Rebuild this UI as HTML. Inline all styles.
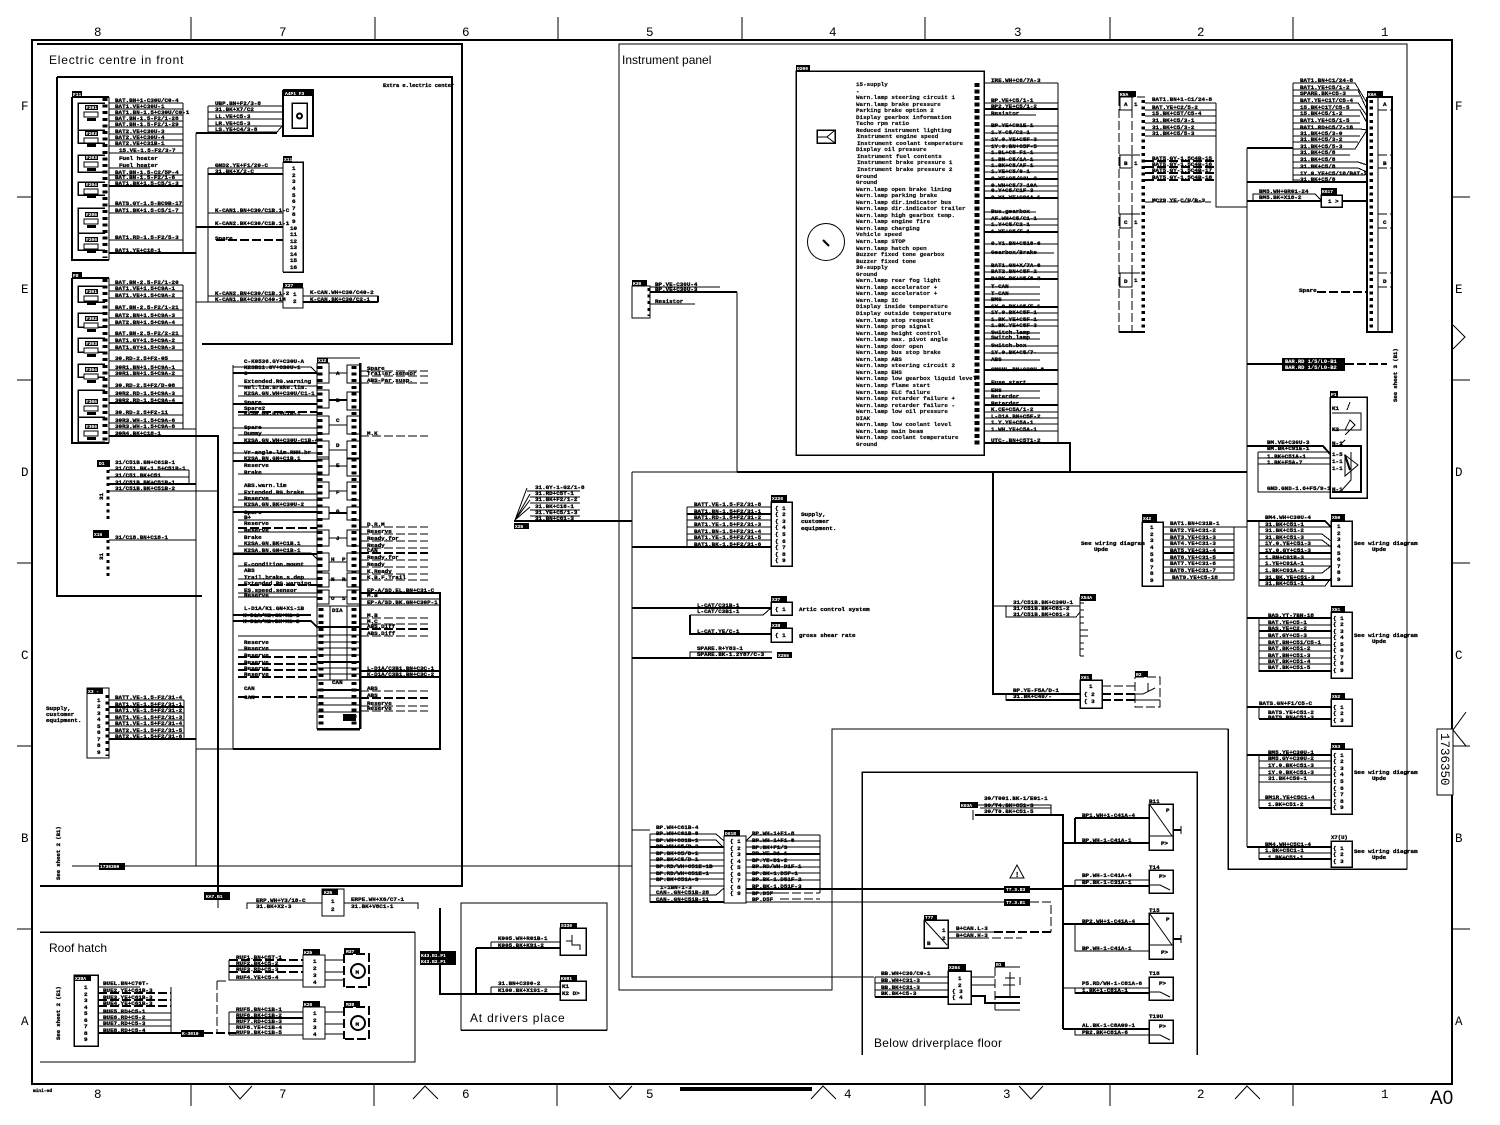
<!DOCTYPE html>
<html><head><meta charset="utf-8"><style>
html,body{margin:0;padding:0;background:#fff}
svg{display:block}
text{font-family:"Liberation Mono",monospace;font-size:5.9px;font-weight:bold;fill:#000;stroke:#000;stroke-width:.32}
.n{stroke-width:.14}
.w{fill:#fff;stroke:#fff;stroke-width:.1;font-size:4.6px}
.s{font-family:"Liberation Mono",monospace;font-size:12.5px;font-weight:normal;stroke-width:0}
.b{font-family:"Liberation Sans",sans-serif;font-size:12px;font-weight:normal;stroke-width:0}
path,rect,circle,line{fill:none;stroke:#000;stroke-width:1}
.k{stroke-width:2}.h{stroke-width:2.5}
.d{stroke-dasharray:9 3}
.dk{stroke-width:2;stroke-dasharray:9 3}
.p{stroke-width:5;stroke-dasharray:3 3.6}
.f{fill:#000;stroke:none}
.q{fill:#fff}
</style></head><body>
<svg width="1500" height="1125" viewBox="0 0 1500 1125" xmlns="http://www.w3.org/2000/svg" shape-rendering="crispEdges">
<rect width="1500" height="1125" style="fill:#fff;stroke:none"/>
<!-- drawing frame -->
<path class="k" d="M32 40H1452V1084H32Z"/>
<path d="M191 17V39M375 17V39M558 17V39M742 17V39M925 17V39M1110 17V39M1293 17V39M191 1085V1106M374 1085V1106M557 1085V1106M1293 1085V1106M1110 1085V1106M925 1085V1106M17 197H32M17 380H32M17 563H32M17 746H32M17 929H32M1452 197H1470M1452 380H1470M1452 563H1470M1452 746H1470M1452 929H1470"/>
<path shape-rendering="auto" d="M229 1086L240 1099L252 1086M413 1099L425 1086L438 1099M609 1086L620 1099L632 1086M811 1099L823 1086L836 1099M1019 1086L1031 1099L1043 1086M1235 1099L1247 1086L1260 1099M1453 325L1465 337L1453 349M1466 712L1453 730L1466 746"/>
<rect class="f" x="680" y="1087" width="132" height="4"/>
<g class="s"><text class="s" x="94" y="36">8</text><text class="s" x="279" y="36">7</text><text class="s" x="462" y="36">6</text><text class="s" x="646" y="36">5</text><text class="s" x="829" y="36">4</text><text class="s" x="1014" y="36">3</text><text class="s" x="1197" y="36">2</text><text class="s" x="1381" y="36">1</text>
<text class="s" x="94" y="1098">8</text><text class="s" x="279" y="1098">7</text><text class="s" x="462" y="1098">6</text><text class="s" x="646" y="1098">5</text><text class="s" x="844" y="1098">4</text><text class="s" x="1003" y="1098">3</text><text class="s" x="1197" y="1098">2</text><text class="s" x="1381" y="1098">1</text>
<text class="s" x="21" y="110">F</text><text class="s" x="21" y="293">E</text><text class="s" x="21" y="476">D</text><text class="s" x="21" y="659">C</text><text class="s" x="21" y="842">B</text><text class="s" x="21" y="1025">A</text>
<text class="s" x="1455" y="110">F</text><text class="s" x="1455" y="293">E</text><text class="s" x="1455" y="476">D</text><text class="s" x="1455" y="659">C</text><text class="s" x="1455" y="842">B</text><text class="s" x="1455" y="1025">A</text></g>
<text class="b" style="font-size:19px" x="1430" y="1104">A0</text>
<text x="33" y="1092" style="font-size:4.5px">mini-ed</text>
<rect class="q" x="1437" y="729" width="16" height="66"/>
<text class="s" transform="translate(1441,733) rotate(90)">1736350</text>

<!-- panels -->
<path class="k" d="M37 44H462V886H40"/>
<path class="k" d="M57 77H452V344H202M57 77V596H202"/>
<text class="b" x="49" y="64" letter-spacing=".8">Electric centre in front</text>
<text x="383" y="87" style="font-size:5.4px">Extra e.lectric center</text>
<path d="M619 990V44H1407V869H1228V729H832V990Z"/>
<path class="k" d="M1228 729V869H1407" style="stroke-width:1.5"/>
<text class="b" x="622" y="64">Instrument panel</text>
<path d="M632 472V977H874"/>
<path class="k" d="M737 472H1247"/>
<path d="M632 472H737"/>
<path class="k" d="M862 1055V772H1197V1055" style="stroke-width:1.5"/>
<text class="b" x="874" y="1047" letter-spacing=".3">Below driverplace floor</text>
<path class="k" style="stroke-width:1.5" d="M40 932H415"/><path d="M415 932V1062H40"/>
<text class="b" x="49" y="952">Roof hatch</text>
<path d="M461 1030V903H607V1030Z"/><path class="k" style="stroke-width:1.5" d="M461 1030H607"/>
<text class="b" x="470" y="1022" letter-spacing=".8">At drivers place</text>

<!-- F11 -->
<path class="k" d="M72 97V260H109M72 97H109"/><path d="M109 97V260"/>
<rect class="f" x="72" y="91" width="10" height="6"/><text class="w" x="73" y="96">F11</text>
<path class="p" d="M105 98V258"/>
<path d="M109 103H183M109 109H183M109 115H183M109 121H183M109 127H183M109 134H183M109 140H183M109 146H183M109 153H183M109 168H150M109 175H183M109 180H183M109 186H183M109 206H183M109 213H183M109 240H183M183 103V253"/>
<path class="k" d="M109 253H196M109 186H183"/>
<path class="k" d="M105 103H78V130H105M105 130H78V143H105M105 155H78V172H105M105 182H78V195H105M105 208H78V233H105M105 233H78V250H105" style="stroke-width:1.5"/>
<g id="fz"><rect class="f" x="85" y="105" width="13" height="5"/><rect class="q" x="84" y="112" width="14" height="5"/><rect class="f" x="87" y="118" width="9" height="3"/></g>
<use href="#fz" y="26"/><use href="#fz" y="50"/><use href="#fz" y="77"/><use href="#fz" y="107"/><use href="#fz" y="132"/>
<text class="w" x="86" y="109">F201</text><text class="w" x="86" y="135">F202</text><text class="w" x="86" y="159">F203</text><text class="w" x="86" y="186">F204</text><text class="w" x="86" y="216">F205</text><text class="w" x="86" y="241">F206</text>
<text x="115" y="102">BAT.BN+1-C30U/C0-4</text><text x="115" y="108">BAT1.VE+C30U-1</text><text x="115" y="114">BAT1.BN-1.5+C30U/C0-1</text><text x="115" y="120">BAT.BN-1.5-F2/1-28</text><text x="115" y="126">BAT.BN-1.5-F2/1-29</text><text x="115" y="133">BAT2.VE+C30U-3</text><text x="115" y="139">BAT2.VE+C30U-4</text><text x="115" y="145">BAT2.VE+C31B-1</text><text x="119" y="152">15.VE-1.5-F2/3-7</text><text x="119" y="160">Fuel heater</text><text x="119" y="167">Fuel heater</text><text x="115" y="174">BAT.BN-1.5-C2/5P-4</text><text x="115" y="179">BAT.BN-1.5-F2/1-6</text><text x="115" y="185">BAT1.BK+1.5-C5/1-3</text><text x="115" y="205">BATS.GY-1.5-BC9B-17</text><text x="115" y="212">BAT1.BK+1.5-C5/1-7</text><text x="115" y="239">BAT1.RD-1.5-F2/5-3</text><text x="115" y="252">BAT1.YE+C18-1</text>
<!-- F12 -->
<path class="k" d="M72 278V443H109M72 278H109"/><path d="M109 278V443"/>
<rect class="f" x="72" y="272" width="10" height="6"/><text class="w" x="73" y="277">F8</text>
<path class="p" d="M105 279V441"/>
<path d="M109 285H183M109 291H183M109 298H183M109 310H183M109 318H183M109 325H183M109 336H183M109 343H183M109 350H183M109 361H183M109 370H183M109 376H183M109 388H183M109 396H183M109 403H183M109 415H183M109 423H183M109 429H196M183 285V429"/>
<path class="k" d="M109 436H218V893M109 403H183"/>
<path class="k" style="stroke-width:1.5" d="M105 286H78V302H105M105 313H78V327H105M105 338H78V352H105M105 364H78V377H105M105 390H78V417H105M105 417H78V442H105"/>
<use href="#fz" y="184"/><use href="#fz" y="211"/><use href="#fz" y="236"/><use href="#fz" y="262"/><use href="#fz" y="294"/><use href="#fz" y="319"/>
<text class="w" x="86" y="293">F301</text><text class="w" x="86" y="320">F302</text><text class="w" x="86" y="345">F303</text><text class="w" x="86" y="371">F304</text><text class="w" x="86" y="403">F305</text><text class="w" x="86" y="428">F306</text>
<text x="115" y="284">BAT.BN-2.5-F2/1-20</text><text x="115" y="290">BAT1.VE+1.5+C9A-1</text><text x="115" y="297">BAT1.VE+1.5+C9A-2</text><text x="115" y="309">BAT.BN-2.5-F2/1-21</text><text x="115" y="317">BAT2.BN+1.5+C9A-3</text><text x="115" y="324">BAT2.BN+1.5+C9A-4</text><text x="115" y="335">BAT.BN-2.5-F2/2-21</text><text x="115" y="342">BAT1.GY+1.5+C9A-2</text><text x="115" y="349">BAT1.GY+1.5+C9A-3</text><text x="115" y="360">30.RD-2.5+F2-05</text><text x="115" y="369">30R1.BN+1.5+C9A-1</text><text x="115" y="375">30R1.BN+1.5+C9A-2</text><text x="115" y="387">30.RD-2.5+F2/D-08</text><text x="115" y="395">30R2.RD-1.5+C9A-3</text><text x="115" y="402">30R2.RD-1.5+C9A-4</text><text x="115" y="414">30.RD-2.5+F2-11</text><text x="115" y="422">30R3.WH-1.5+C9A-6</text><text x="115" y="428">30R3.WH-1.5+C9A-8</text><text x="115" y="435">30R4.BK+C18-1</text>
<!-- bus lines -->
<path d="M196 133V866M72 866H632M218 900V908"/>
<path class="k" d="M196 133H277"/>
<path d="M196 749H440"/>
<rect class="f" x="99" y="863" width="26" height="7"/><text class="w" x="100" y="868">1736350</text>
<text transform="translate(60,880) rotate(-90)" style="font-size:5.6px">See sheet 2 (B1)</text>
<rect class="f" x="204" y="892" width="26" height="8"/><text class="w" x="206" y="898">KA7.B1</text>
<!-- A4 connector -->
<path class="k" d="M283 90H313V136H283V90"/><rect class="f" x="283" y="90" width="30" height="6"/><text class="w" x="285" y="95">A4P1 F3</text>
<rect class="k" style="stroke-width:1.5" x="292" y="103" width="15" height="25"/><circle cx="299.5" cy="116" r="2.5" class="k" shape-rendering="auto"/>
<path d="M208 106H283M208 112H283M208 119H283M208 126H283M208 132H277L283 125M208 106V132"/>
<text x="215" y="105">UBP.BN+F2/3-8</text><text x="215" y="111">31.BK+X7/C2</text><text x="215" y="118">LL.VE+C5-3</text><text x="215" y="125">LR.VE+C5-3</text><text x="215" y="131">LS.YE+C4/3-8</text>
<!-- X11 -->
<path class="k" style="stroke-width:1.5" d="M283 162H303V272H283"/><path d="M283 162V272"/>
<rect class="f" x="283" y="156" width="9" height="6"/><text class="w" x="284" y="161">X11</text>
<g class="n"><text x="292" y="170">1</text><text x="292" y="177">2</text><text x="292" y="183">3</text><text x="292" y="190">4</text><text x="292" y="197">5</text><text x="292" y="203">6</text><text x="292" y="210">7</text><text x="292" y="216">8</text><text x="292" y="223">9</text><text x="290" y="230">10</text><text x="290" y="236">11</text><text x="290" y="243">12</text><text x="290" y="249">13</text><text x="290" y="256">14</text><text x="290" y="262">15</text><text x="290" y="269">16</text></g>
<path d="M208 168H283M208 168V302M208 213H283M283 183V270"/><path class="k" d="M208 174H283M196 227H283"/><path class="dk" d="M216 240H283"/>
<text x="215" y="167">GND2.YE+F1/20-C</text><text x="215" y="173">31.BK+X/2-C</text><text x="215" y="212">K-CAN1.BN+C30/C1B.1-C</text><text x="215" y="225">K-CAN2.BK+C30/C1B.1-1</text><text x="215" y="240">Spare</text>
<!-- X27 -->
<rect x="283" y="288" width="20" height="20"/><rect class="f" x="283" y="283" width="20" height="5"/><text class="w" x="285" y="287">X27</text>
<text x="293" y="296">1</text><text x="293" y="303">2</text>
<path d="M208 296H283M196 302H283M303 296H378V302H303"/>
<path class="k" d="M303 302H378M378 296V302"/>
<text x="215" y="295">K-CAN2.BN+C30/C1B.1-2</text><text x="215" y="301">K-CAN1.BK+C30/C40-1M</text><text x="310" y="294">K-CAN.WH+C30/C40-2</text><text x="310" y="301">K-CAN.BK+C30/C2-1</text>

<!-- X12 central -->
<path d="M233 365V749"/>
<path class="k" d="M360 593H440V749H233" style="stroke-width:2"/>
<path d="M317 363V729"/><path class="h" d="M360 363V729M317 729H360"/><path d="M317 358H360"/>
<rect class="f" x="317" y="358" width="11" height="5"/><text class="w" x="318" y="362">X12</text>
<path d="M317 363H329V383H317M317 390H329V408H317M317 416H329V434H317M317 441H329V459H317M317 457H329V475H317M317 482H329V498H317M317 507H329V519H317M317 530H329V546H317M317 553H329V571H317M317 573H329V587H317M317 590H329V604H317M347 365H360V383H347ZM347 392H360V410H347ZM347 416H360V434H347ZM347 441H360V459H347ZM347 458H360V476H347ZM347 482H360V500H347ZM347 507H360V520H347ZM347 530H360V546H347ZM347 553H360V571H347ZM347 573H360V587H347ZM347 590H360V604H347Z"/>
<path d="M329 373H347M329 400H347M329 425H347M329 450H347M329 466H347M329 491H347M329 513H347M329 538H347M329 562H347M329 580H347M329 597H347"/>
<path class="k" d="M329 400H347M329 513H347"/>
<text x="336" y="375">A</text><text x="336" y="402">B</text><text x="336" y="422">C</text><text x="336" y="447">D</text><text x="336" y="467">E</text><text x="336" y="494">F</text><text x="336" y="513">G</text><text x="336" y="540">J</text><text x="331" y="561">H</text><text x="342" y="561">P</text><text x="331" y="581">N</text><text x="342" y="581">R</text><text x="331" y="600">O</text><text x="342" y="600">S</text><text x="332" y="612">DIA</text><text x="332" y="684" >CAN</text>
<path d="M317 606H360M330 606V680M347 606V680M317 680H360"/>
<path class="p" d="M320 366V604M354 366V604"/>
<path class="p" d="M321 608V678M354 608V678M321 682V725M354 682V725"/>
<path d="M317 635H360M317 642H360M317 648H360M317 655H360M317 662H360M317 668H360M317 674H360M317 690H360M317 698H360M317 705H360M317 712H360"/>
<path class="k" d="M317 627H360M317 662H360M317 690H360"/>
<rect class="f" x="343" y="714" width="13" height="7"/>
<!-- X12 left rows -->
<path d="M233 367H311L317 373M238 386H317M238 396H317M238 461H317M238 415H317M233 428H317M238 435H317M233 453H317M238 461H317M238 474H317M238 494H317M238 500H317M233 507H317M238 520H317M238 532H317M238 546H317M233 553H311L317 559M238 566H317M238 579H317M238 593H317M238 597H317M238 636H317M238 650H317"/>
<path class="k" d="M233 373H317M233 404H317M233 443H317M233 461H317M233 512H317M233 554H317M233 621H311L317 627M233 615H311"/>
<path class="dk" d="M238 412H317M238 528H317M238 585H317M238 657H317M238 664H317M238 670H317M238 677H317M238 697H317"/>
<text x="244" y="363">C-K0536.GY+C30U-A</text><text x="244" y="369">K2SB11.GY+C30U-1</text><text x="244" y="375">C</text><text x="244" y="383">Extended.RG.warning</text><text x="244" y="389">Rel.lim.Brake.lim.</text><text x="244" y="395">K2SA.GN.WH+C30U/C1-1</text><text x="244" y="404">Spare</text><text x="244" y="410">Spare2</text><text x="244" y="415">K2SA.GN.GY+C1B-1</text><text x="244" y="429">Spare</text><text x="244" y="435">Dummy</text><text x="244" y="442">K2SA.GN.WH+C30U-C1B-4</text><text x="244" y="454">Vr-angle.lim.RHH.br</text><text x="244" y="460">K2SA.BN.GN+C1B.1</text><text x="244" y="467">Reserve</text><text x="244" y="474">Brake</text><text x="244" y="487">ABS.warn.lim</text><text x="244" y="494">Extended.RG.brake</text><text x="244" y="500">Reserve</text><text x="244" y="506">K2SA.GN.BK+C30U-2</text><text x="244" y="514">Spare</text><text x="244" y="519">B+</text><text x="244" y="525">Reserve</text><text x="244" y="532">Reserve</text><text x="244" y="539">Brake</text><text x="244" y="545">K2SA.GN.BK+C1B.1</text><text x="244" y="552">K2SA.BN.GN+C1B-1</text><text x="244" y="566">E-condition.mount</text><text x="244" y="572">ABS</text><text x="244" y="579">Trail.brake.s.dep</text><text x="244" y="585">Extended.RG.warning</text><text x="244" y="592">ES.speed.sensor</text><text x="244" y="597">Reserve</text><text x="244" y="610">L-D1A/K1.GN+X1-1B</text><text x="243" y="617">K-D1A/K2.GN+X1-1</text><text x="243" y="623">K-D1A/K2.BK+X1-2</text><text x="244" y="644">Reserve</text><text x="244" y="650">Reserve</text><text x="244" y="657">Reserve</text><text x="244" y="664">Reserve</text><text x="244" y="670">Reserve</text><text x="244" y="676">Reserve</text><text x="244" y="690">CAN</text><text x="244" y="699">CAN</text>
<!-- X12 right rows -->
<path class="d" d="M360 371H428M360 376H428M360 383H428M360 436H428M360 527H428M360 534H428M360 541H428M360 548H428M360 560H428M360 567H428M360 574H428M360 580H428M360 618H428M360 624H428M360 636H428M360 691H428M360 706H428M360 711H428"/>
<path class="dk" d="M360 553H428M360 629H428M360 698H428"/>
<path d="M360 599H440M360 605H440"/><path class="k" d="M360 671H440M360 677H440"/>
<text x="367" y="370">Spare</text><text x="367" y="375">Trailer.sensor</text><text x="367" y="382">ABS-Par.susp.</text><text x="367" y="435">M.K</text><text x="367" y="526">D.R.M</text><text x="367" y="533">Reserve</text><text x="367" y="540">Ready.for</text><text x="367" y="547">Ready</text><text x="367" y="552">CAN</text><text x="367" y="559">Ready.for</text><text x="367" y="566">Ready</text><text x="367" y="573">K.Ready</text><text x="367" y="579">K.B.F.Trail</text><text x="367" y="592">EP-A/SD.EL.BN+C31-C</text><text x="367" y="597">M.B</text><text x="367" y="604">EP-A/SD.BK.GN+C30P-1</text><text x="367" y="617">M.B</text><text x="367" y="623">M.C</text><text x="367" y="628">ABS.Diff</text><text x="367" y="635">ABS.Diff</text><text x="367" y="670">L-D1A/C3B1.BN+C3C-1</text><text x="367" y="676">K-D1A/C3B1.BN+C3C-2</text><text x="367" y="690">ABS</text><text x="367" y="697">ABS</text><text x="367" y="705">Reserve</text><text x="367" y="710">Reserve</text>

<!-- D1 X16 -->
<rect class="f" x="97" y="460" width="13" height="7"/><text class="w" x="99" y="465">D1</text>
<path class="p" style="stroke-width:3" d="M108 470V521M108 540V576"/>
<text transform="translate(103,500) rotate(-90)">31</text><text transform="translate(103,560) rotate(-90)">31</text>
<path d="M109 470H189M109 477H189M109 491H218M189 470V484M109 540H196"/><path class="k" d="M109 484H196"/>
<text x="115" y="464">31/C51B.BN+C61B-1</text><text x="115" y="470">31/C51.BK-1.5+C51B-1</text><text x="115" y="477">31/C51.BK+C51</text><text x="115" y="484">31/C51B.BK+C51B-1</text><text x="115" y="490">31/C51B.BK+C51B-2</text>
<rect class="f" x="93" y="530" width="16" height="8"/><text class="w" x="94" y="536">X16</text>
<text x="115" y="539">31/C18.BN+C18-1</text>
<!-- X3 -->
<path d="M87 688H109V758H87Z"/><rect class="f" x="87" y="688" width="16" height="6"/><text class="w" x="88" y="693">X3 -</text>
<text x="97" y="702">1</text><text x="97" y="708">2</text><text x="97" y="715">3</text><text x="97" y="721">4</text><text x="97" y="728">5</text><text x="97" y="734">6</text><text x="97" y="741">7</text><text x="97" y="747">8</text><text x="97" y="754">9</text>
<path class="p" style="stroke-width:3" d="M107 695V756"/>
<path d="M109 700H184M109 707H184M109 713H184M109 720H184M109 726H184M109 733H184M184 700V740"/><path class="k" d="M109 739H196M109 707H184"/>
<text x="115" y="699">BATT.VE-1.5-F2/31-4</text><text x="115" y="706">BAT1.VE-1.5+F2/31-1</text><text x="115" y="712">BAT1.VE-1.5+F2/31-2</text><text x="115" y="719">BAT1.VE-1.5+F2/31-3</text><text x="115" y="725">BAT1.VE-1.5+F2/31-4</text><text x="115" y="732">BAT2.VE-1.5+F2/31-5</text><text x="115" y="738">BAT2.VE-1.5+F2/31-6</text>
<text x="46" y="710">Supply,</text><text x="46" y="716">customer</text><text x="46" y="722">equipment.</text>

<!-- K25 -->
<path d="M322 889H344V916H322Z"/><rect class="f" x="322" y="889" width="16" height="6"/><text class="w" x="324" y="894">K25</text>
<text x="331" y="903">1</text><text x="331" y="911">2</text>
<path d="M247 909V903H322M344 903H418V909"/>
<text x="256" y="902">ERP.WH+Y3/18-C</text><text x="256" y="908">31.BK+X2-3</text><text x="351" y="901">ERPE.WH+X6/C7-1</text><text x="351" y="908">31.BK+V8C1-1</text>
<!-- Roof hatch -->
<path class="k" d="M74 975H98V1046H74Z" style="stroke-width:1.5"/><rect class="f" x="74" y="975" width="17" height="6"/><text class="w" x="75" y="980">X38A</text>
<text transform="translate(60,1040) rotate(-90)" style="font-size:5.6px">See sheet 2 (E1)</text>
<text x="84" y="989">1</text><text x="84" y="996">2</text><text x="84" y="1002">3</text><text x="84" y="1009">4</text><text x="84" y="1015">5</text><text x="84" y="1022">6</text><text x="84" y="1028">7</text><text x="84" y="1035">8</text><text x="84" y="1041">9</text>
<path d="M98 987H140M98 1013H171M98 1020H171M98 1026H171M171 987V1033"/><path class="dk" d="M98 993H171M98 1000H171M98 1006H171"/><path class="k" d="M98 1033H181"/>
<text x="103" y="985">BUEL.BN+C70T-</text><text x="103" y="992">BUE2.YE+C61B-3</text><text x="103" y="999">BUE3.YE+C61B-3</text><text x="103" y="1005">BUE4.YE+C61B-3</text><text x="103" y="1013">BUE5.RD+C5-1</text><text x="103" y="1019">BUE6.RD+C5-2</text><text x="103" y="1025">BUE7.RD+C5-3</text><text x="103" y="1032">BUE8.RD+C5-4</text>
<rect class="f" x="181" y="1030" width="23" height="7"/><text class="w" x="182" y="1035">K-3010</text>
<path class="dk" d="M204 1033H236"/><path class="d" d="M217 981V1033M217 981H229"/>
<path class="dk" d="M229 960H303M229 972H303"/><path class="k" d="M229 966H303"/><path d="M229 960V980H303M229 1012H303M229 1012V1035M229 1024H303M229 1035H303"/><path class="k" d="M236 1018H303"/>
<text x="236" y="959">RUF1.BN+C5T-1</text><text x="236" y="965">RUF2.BK+C5-2</text><text x="236" y="971">RUF3.RD+C5-3</text><text x="236" y="979">RUF4.YE+C5-4</text><text x="236" y="1011">RUF5.BN+C1B-1</text><text x="236" y="1017">RUF6.BK+C1B-2</text><text x="236" y="1023">RUF7.RD+C1B-3</text><text x="236" y="1029">RUF8.YE+C1B-4</text><text x="236" y="1034">RUF9.BK+C1B-5</text>
<path d="M303 955H325V987H303ZM303 1007H325V1039H303ZM325 960H344M325 972H344M325 980H344M325 1012H344M325 1024H344M325 1034H344"/>
<rect class="f" x="303" y="949" width="17" height="6"/><text class="w" x="304" y="954">K25</text><rect class="f" x="303" y="1001" width="17" height="6"/><text class="w" x="304" y="1006">K26</text>
<text x="313" y="963">1</text><text x="313" y="970">2</text><text x="313" y="977">3</text><text x="313" y="984">4</text><text x="313" y="1015">1</text><text x="313" y="1022">2</text><text x="313" y="1029">3</text><text x="313" y="1036">4</text>
<path class="dk" d="M344 954H369V987H344M344 1007H369V1039H344M344 954V987M344 1007V1039"/>
<rect class="f" x="344" y="948" width="16" height="6"/><text class="w" x="346" y="953">M37</text><rect class="f" x="344" y="1001" width="16" height="6"/><text class="w" x="346" y="1006">M38</text>
<circle class="k q" cx="358" cy="971" r="7" shape-rendering="auto"/><circle class="k q" cx="358" cy="1023" r="7" shape-rendering="auto"/><text x="355.5" y="974">M</text><text x="355.5" y="1026">M</text>
<!-- Drivers place -->
<path d="M440 908V951"/><path class="k" d="M440 908V994H560M476 948V994M476 948H560"/>
<rect class="f" x="420" y="951" width="36" height="14"/><text class="w" x="421" y="957">K43.B1.P1</text><text class="w" x="421" y="963">K43.B2.P1</text>
<path d="M491 942H560M491 942V948M491 987H560M491 987V994"/>
<text x="498" y="940">K005.WH+R01B-1</text><text x="498" y="947">K005.BK+K91-2</text><text x="498" y="985">31.BN+C390-2</text><text x="498" y="992">K100.BK+X191-2</text>
<rect class="k" style="stroke-width:1.5" x="560" y="928" width="26" height="27"/><rect class="f" x="560" y="923" width="17" height="5"/><text class="w" x="561" y="927">S330</text><path d="M572 935V945H580V950M566 941H572"/>
<rect class="k" style="stroke-width:1.5" x="560" y="981" width="26" height="19"/><rect class="f" x="560" y="975" width="17" height="6"/><text class="w" x="561" y="980">K081</text><text x="562" y="988">K1</text><text x="562" y="995">K2 D&gt;</text>

<!-- Center-left label bundle -->
<path shape-rendering="auto" d="M515 520L527 488M515 520L530 494M515 520L530 500M515 520L530 507"/>
<path d="M527 491H580M530 497H580M530 503H580M530 510H580M530 516H580"/><path class="k" d="M514 521H632"/>
<rect class="f" x="514" y="523" width="15" height="6"/><text class="w" x="515" y="528">X25</text>
<text x="535" y="489">31.GY-1-G2/1-8</text><text x="535" y="495">31.RD+C5T-1</text><text x="535" y="501">31.BK+F2/1-2</text><text x="535" y="508">31.BK+C18-1</text><text x="535" y="514">31.YE+C5/1-3</text><text x="535" y="520">31.BN+C61-3</text>
<!-- small instrument connector -->
<rect x="632" y="286" width="18" height="32"/><rect class="f" x="632" y="280" width="15" height="6"/><text class="w" x="633" y="285">K36</text>
<path class="p" style="stroke-width:3" d="M649 288V316"/><path class="k" d="M650 292H737"/><path d="M737 292V472M650 287H720M650 304H695"/>
<text x="655" y="286">BP.VE-C30U-4</text><text x="655" y="291">BP.VE+C30U-3</text><text x="655" y="303">Resistor</text>

<!-- instrument cluster -->
<rect class="k" style="stroke-width:1.5" x="796" y="71" width="188" height="384"/><rect class="f" x="796" y="65" width="14" height="6"/><text class="w" x="797" y="70">D200</text>
<rect class="k" style="stroke-width:1.5" x="817" y="130" width="18" height="13"/><path shape-rendering="auto" d="M818 137H827L835 130M827 137L835 143"/>
<circle class="k" style="stroke-width:1" cx="826" cy="242" r="18.5" shape-rendering="auto"/><path class="k" shape-rendering="auto" d="M823 240L829 246"/>
<g class="n" font-size="5.7"><text class="n" x="856" y="86">15-supply</text><text class="n" x="856" y="93">-</text><text class="n" x="856" y="99">Warn.lamp steering circuit 1</text><text class="n" x="856" y="106">Warn.lamp brake pressure</text><text class="n" x="856" y="112">Parking brake option 2</text><text class="n" x="856" y="119">Display gearbox information</text><text class="n" x="856" y="125">Tacho rpm ratio</text><text class="n" x="856" y="132">Reduced instrument lighting</text><text class="n" x="857" y="138">Instrument engine speed</text><text class="n" x="857" y="145">Instrument coolant temperature</text><text class="n" x="856" y="151">Display oil pressure</text><text class="n" x="857" y="158">Instrument fuel contents</text><text class="n" x="857" y="164">Instrument brake pressure 1</text><text class="n" x="857" y="171">Instrument brake pressure 2</text><text class="n" x="856" y="178">Ground</text><text class="n" x="856" y="184">Ground</text><text class="n" x="856" y="191">Warn.lamp open brake lining</text><text class="n" x="856" y="197">Warn.lamp parking brake</text><text class="n" x="856" y="204">Warn.lamp dir.indicator bus</text><text class="n" x="856" y="210">Warn.lamp dir.indicator trailer</text><text class="n" x="856" y="217">Warn.lamp high gearbox temp.</text><text class="n" x="856" y="223">Warn.lamp engine fire</text><text class="n" x="856" y="230">Warn.lamp charging</text><text class="n" x="856" y="236">Vehicle speed</text><text class="n" x="856" y="243">Warn.lamp STOP</text><text class="n" x="856" y="250">Warn.lamp hatch open</text><text class="n" x="856" y="256">Buzzer fixed tone gearbox</text><text class="n" x="856" y="263">Buzzer fixed tone</text><text class="n" x="856" y="269">30-supply</text><text class="n" x="856" y="276">Ground</text><text class="n" x="856" y="282">Warn.lamp rear fog light</text><text class="n" x="856" y="289">Warn.lamp accelerator +</text><text class="n" x="856" y="295">Warn.lamp accelerator +</text><text class="n" x="856" y="302">Warn.lamp IC</text><text class="n" x="856" y="308">Display inside temperature</text><text class="n" x="856" y="315">Display outside temperature</text><text class="n" x="856" y="322">Warn.lamp stop request</text><text class="n" x="856" y="328">Warn.lamp prop signal</text><text class="n" x="856" y="335">Warn.lamp height control</text><text class="n" x="856" y="341">Warn.lamp max. pivot angle</text><text class="n" x="856" y="348">Warn.lamp door open</text><text class="n" x="856" y="354">Warn.lamp bus stop brake</text><text class="n" x="856" y="361">Warn.lamp ABS</text><text class="n" x="856" y="367">Warn.lamp steering circuit 2</text><text class="n" x="856" y="374">Warn.lamp EHS</text><text class="n" x="856" y="380">Warn.lamp low gearbox liquid level</text><text class="n" x="856" y="387">Warn.lamp flame start</text><text class="n" x="856" y="394">Warn.lamp ELC failure</text><text class="n" x="856" y="400">Warn.lamp retarder failure +</text><text class="n" x="856" y="407">Warn.lamp retarder failure -</text><text class="n" x="856" y="413">Warn.lamp low oil pressure</text><text class="n" x="856" y="420">DIAK</text><text class="n" x="856" y="426">Warn.lamp low coolant level</text><text class="n" x="856" y="433">Warn.lamp main beam</text><text class="n" x="856" y="439">Warn.lamp coolant temperature</text><text class="n" x="856" y="446">Ground</text></g>
<path class="p" style="stroke-width:5;stroke-dasharray:4 2.5" d="M977 83V446"/>
<path d="M1058 83V443M984 83H1058M984 103H1058M984 115H1036M984 126H1058M984 133H1058M984 140H1058M984 146H1058M984 153H1058M984 160H1058M984 166H1058M984 172H1058M984 179H1058M984 186H1058M984 191H1058M984 198H1058M984 212H1036M984 219H1058M984 225H1058M984 232H1058M984 244H1058M984 253H1054M984 266H1058M984 272H1058M984 279H1058M984 287H1040M984 294H1040M984 300H1040M984 307H1058M984 313H1058M984 320H1058M984 326H1058M984 333H1040M984 339H1040M984 346H1058M984 353H1058M984 360H1040M984 391H1040M984 398H1040M984 405H1040M984 412H1058M984 418H1058M984 424H1058M984 431H1058"/>
<path class="k" d="M984 109H1058M984 179H1058M984 198H1058M984 232H1058M984 279H1058M984 307H1058M984 370H1058M984 384H1058M984 405H1058M984 443H1070V472"/>
<g><text x="991" y="82">IRE.WH+C6/7A-3</text><text x="991" y="102">BP.VE+C5/1-1</text><text x="991" y="108">BP2.YE+C5/1-2</text><text x="991" y="115">Resistor</text><text x="991" y="127">BP.YE+C91E-1</text><text x="991" y="134">1.Y-C5/C2-1</text><text x="991" y="141">1Y.0.YE+C5F-3</text><text x="991" y="148">1Y.0.BN+C5F-5</text><text x="991" y="154">1.BL+C5-F1-1</text><text x="991" y="161">1.BN-C5/1A-1</text><text x="991" y="167">1.BK+C5/AF-1</text><text x="991" y="173">1.YE+C5/0-1</text><text x="991" y="180">0.YE+C5/C3L-2</text><text x="991" y="187">0.WH+C5/7-10A</text><text x="991" y="192">0.Y+C5/C1F-3</text><text x="991" y="199">0.Y1.YE+C91A-1</text><text x="991" y="213">Bus.gearbox</text><text x="991" y="220">AF.WH+C5/C1-1</text><text x="991" y="226">1.Y+C5/C2-1</text><text x="991" y="233">1.YE+C5/F-1</text><text x="991" y="245">0.Y1.BN+C518-6</text><text x="991" y="254">Gearbox/Brake</text><text x="991" y="267">BAT1.GN+X/7A-6</text><text x="991" y="273">BAT2.BN+C5F-2</text><text x="991" y="280">B+BK.BK+C5/8-2</text><text x="991" y="288">T-CAN</text><text x="991" y="295">T-CAN</text><text x="991" y="301">BMS</text><text x="991" y="308">1Y.0.BK+C5/F-1</text><text x="991" y="314">1Y.0.BK+C5F-1</text><text x="991" y="321">1.BK.YE+C5F-1</text><text x="991" y="327">1.BK.YE+C5F-3</text><text x="991" y="334">Switch.lamp</text><text x="991" y="339">Switch.lamp</text><text x="991" y="347">Switch.box</text><text x="991" y="354">1Y.0.BK+C5/7-</text><text x="991" y="361">ABS</text><text x="991" y="371">GMSHL.BN+C30U-8</text><text x="991" y="384">Fuse.start</text><text x="991" y="392">EHS</text><text x="991" y="398">Retarder</text><text x="991" y="405">Retarder</text><text x="991" y="411">K.CE+C5A/1-2</text><text x="991" y="418">L-D1A.BN+C5F-2</text><text x="991" y="424">1.Y.YE+C5A-1</text><text x="991" y="431">1.WH.YE+C5A-1</text><text x="991" y="442">UTC-.BN+C5T1-2</text></g>

<!-- X90 + left -->
<rect class="k" style="stroke-width:1.5" x="771" y="502" width="21" height="64"/><rect class="f" x="771" y="495" width="16" height="7"/><text class="w" x="772" y="500">X226</text>
<g><text x="775" y="510">{ 1</text><text x="775" y="516">{ 2</text><text x="775" y="523">{ 3</text><text x="775" y="529">{ 4</text><text x="775" y="536">{ 5</text><text x="775" y="543">{ 6</text><text x="775" y="549">{ 7</text><text x="775" y="556">{ 8</text><text x="775" y="562">{ 9</text></g>
<path d="M687 507V547M687 507H771M687 520H771M687 527H771M687 534H771M687 540H771"/><path class="k" d="M687 514H771M632 547H771"/>
<g><text x="694" y="506">BATT.VE-1.5-F2/31-8</text><text x="694" y="513">BAT1.BN-1.5+F2/31-1</text><text x="694" y="519">BAT1.RD-1.5+F2/31-2</text><text x="694" y="526">BAT1.YE-1.5+F2/31-3</text><text x="694" y="533">BAT1.BN-1.5+F2/31-4</text><text x="694" y="539">BAT1.YE-1.5+F2/31-5</text><text x="694" y="546">BAT1.BK-1.5+F2/31-6</text></g>
<text x="801" y="516">Supply,</text><text x="801" y="523">customer</text><text x="801" y="530">equipment.</text>
<!-- X37 -->
<rect class="k" style="stroke-width:1.5" x="771" y="602" width="21" height="13"/><rect class="f" x="771" y="596" width="16" height="6"/><text class="w" x="772" y="601">X37</text>
<rect class="k" style="stroke-width:1.5" x="771" y="628" width="21" height="14"/><rect class="f" x="771" y="622" width="16" height="6"/><text class="w" x="772" y="627">X38</text>
<text x="775" y="611">{ 1</text><text x="775" y="637">{ 1</text>
<path class="k" d="M632 608H771M690 615V634H771"/><path d="M690 615H763L771 608"/>
<text x="697" y="607">L-CAT/C31B-1</text><text x="697" y="613">L-CAT/C3B1-1</text><text x="697" y="633">L-CAT.YE/C-1</text>
<text x="799" y="611">Artic control system</text><text x="799" y="637">gross shear rate</text>
<path class="k" d="M632 658H772"/><path d="M690 658V652H772"/>
<text x="697" y="650">SPARE.R+Y83-1</text><text x="697" y="656">SPARE.BK-1.2Y87/C-3</text>
<rect class="f" x="777" y="652" width="15" height="6"/><text class="w" x="778" y="657">X255</text>
<!-- mid-right X61 -->
<path class="k" d="M993 472V694H1080"/><path d="M993 606H1080M1006 606V617H1076L1080 612M1080 597V656M1006 694V700H1080"/><path class="k" d="M1080 700H1006"/>
<rect class="f" x="1080" y="594" width="16" height="7"/><text class="w" x="1081" y="599">X54A</text>
<path d="M1080 603H1084M1080 610H1084M1080 617H1084M1080 623H1084M1080 630H1088M1080 636H1088M1080 643H1084M1080 649H1084M1080 656H1084"/>
<text x="1013" y="604">31/C51B.BK+C30U-1</text><text x="1013" y="610">31/C51B.BK+C61-2</text><text x="1013" y="616">31/C51B.BK+C61-3</text>
<text x="1013" y="692">BP.YE-F5A/D-1</text><text x="1013" y="698">31.BK+C49/-</text>
<rect class="k" style="stroke-width:1.5" x="1080" y="680" width="22" height="28"/><rect class="f" x="1080" y="674" width="12" height="6"/><text class="w" x="1081" y="679">X61</text>
<text x="1089" y="688">1</text><text x="1084" y="696">{ 2</text><text x="1084" y="703">{ 3</text>
<path class="d" d="M1102 686H1135"/><path class="dk" d="M1102 694H1135M1102 700H1135"/>
<path class="d" d="M1135 677H1160V707H1135V677"/><rect class="f" x="1135" y="671" width="13" height="6"/><text class="w" x="1136" y="676">R2</text>
<path shape-rendering="auto" d="M1135 694H1143L1155 688M1148 683V692M1135 700H1160"/>
<!-- X42 mid -->
<rect class="k" style="stroke-width:1.5" x="1142" y="522" width="21" height="64"/><rect class="f" x="1142" y="514" width="15" height="8"/><text class="w" x="1143" y="520">X42</text>
<text x="1150" y="529">1</text><text x="1150" y="536">2</text><text x="1150" y="542">3</text><text x="1150" y="549">4</text><text x="1150" y="556">5</text><text x="1150" y="562">6</text><text x="1150" y="569">7</text><text x="1150" y="575">8</text><text x="1150" y="582">9</text>
<path d="M1163 527H1247M1163 534H1234M1163 540H1234M1163 547H1234M1163 560H1234M1163 567H1234M1163 573H1234M1163 580H1234M1234 527V580"/><path class="k" d="M1163 553H1234"/>
<g><text x="1170" y="525">BAT1.BN+C31B-1</text><text x="1170" y="532">BAT2.YE+C31-2</text><text x="1170" y="539">BAT3.YE+C31-3</text><text x="1170" y="545">BAT4.YE+C31-3</text><text x="1170" y="552">BAT5.YE+C31-4</text><text x="1170" y="559">BAT6.YE+C31-5</text><text x="1170" y="565">BAT7.YE+C31-6</text><text x="1170" y="572">BAT8.YE+C31-7</text><text x="1172" y="579">BAT9.YE+C5-18</text></g>
<text x="1081" y="545">See wiring diagram</text><text x="1094" y="551">Upde</text>

<!-- Right main vertical + connectors -->
<path d="M1247 148V847"/>
<!-- Left connector F-E -->
<path class="d" d="M1119 97V332H1145M1119 91V97H1145M1132 97V332"/>
<path class="k" d="M1119 332H1145"/><rect class="f" x="1119" y="91" width="17" height="6"/><text class="w" x="1120" y="96">K5A</text>
<path class="p" style="stroke-width:3.5" d="M1143 100V332"/>
<path class="d" d="M1119 110H1132M1119 155H1145M1119 168H1132M1119 214H1145M1119 228H1132M1119 273H1145M1119 287H1132"/>
<rect class="k" style="stroke-width:1" x="1120" y="97" width="12" height="13"/><rect x="1120" y="155" width="12" height="13"/><rect x="1120" y="214" width="12" height="14"/><rect x="1120" y="273" width="12" height="14"/>
<text x="1124" y="106">A</text><text x="1124" y="165">B</text><text x="1124" y="224">C</text><text x="1124" y="283">D</text>
<g class="n"><text x="1134" y="106">1</text><text x="1134" y="165">1</text><text x="1134" y="224">1</text><text x="1134" y="282">1</text></g>
<path d="M1145 103H1216M1145 110H1216M1145 116H1216M1145 123H1216M1145 130H1216M1145 136H1216M1216 103V207H1247"/>
<path class="dk" d="M1145 161H1216M1145 167H1216M1145 173H1216M1145 180H1216"/><path class="d" d="M1145 202H1211"/>
<g><text x="1152" y="101">BAT1.BN+1-C1/24-8</text><text x="1152" y="109">BAT.YE+C2/5-2</text><text x="1152" y="115">15.BK+C5T/C5-4</text><text x="1152" y="122">31.BK+C5/3-1</text><text x="1152" y="129">31.BK+C5/3-2</text><text x="1152" y="135">31.BK+C5/5-3</text><text x="1152" y="160">BAT5.GY-1.5C4B-15</text><text x="1152" y="166">BAT5.GY-1.5C4B-16</text><text x="1152" y="172">BAT5.GY-1.5C4B-17</text><text x="1152" y="179">BAT5.GY-1.5C4B-18</text><text x="1152" y="202">MC29.YE-C/H/B-3</text></g>
<!-- right connector F-E -->
<path class="k" d="M1367 97H1392V332H1367V97"/><path d="M1378 97V332"/><rect class="f" x="1367" y="91" width="16" height="6"/><text class="w" x="1368" y="96">K6A</text>
<path class="p" style="stroke-width:3.5" d="M1371 100V332"/>
<path class="d" d="M1378 110H1392M1378 155H1392M1378 168H1392M1378 214H1392M1378 228H1392M1378 273H1392M1378 287H1392"/>
<text x="1383" y="106">A</text><text x="1383" y="165">B</text><text x="1383" y="224">C</text><text x="1383" y="283">D</text>
<path class="k" d="M1247 148H1293M1247 182H1367M1247 201H1321M1342 201H1367"/>
<path d="M1293 83V182M1293 83H1355L1367 103M1293 90H1358L1367 110M1293 96H1360M1293 103H1358L1367 116M1293 110H1360L1367 123M1293 116H1360M1293 123H1360M1293 129H1360L1367 130M1293 136H1360M1293 142H1358M1293 149H1355L1367 130M1293 155H1350M1293 162H1358L1367 165M1293 168H1358L1367 172M1293 175H1365M1293 180H1300"/>
<g><text x="1300" y="82">BAT1.BN+C1/24-8</text><text x="1300" y="89">BAT1.YE+C5/1-2</text><text x="1300" y="95">SPARE.BK+C5-3</text><text x="1300" y="102">BAT.YE+C1T/C5-4</text><text x="1300" y="109">15.BK+C1T/C5-5</text><text x="1300" y="115">15.BK+C5/1-2</text><text x="1300" y="122">BAT1.YE+C5/1-5</text><text x="1300" y="129">BAT1.RD+C5/7-18</text><text x="1300" y="135">31.BK+C5/3-0</text><text x="1300" y="141">31.BK+C5/3-2</text><text x="1300" y="148">31.BK+C5/5-3</text><text x="1300" y="154">31.BK+C5/8</text><text x="1300" y="161">31.BK+C5/8</text><text x="1300" y="168">31.BK+C5/8</text><text x="1300" y="175">1Y.0.YE+C5/18/BAT-2</text><text x="1300" y="181">31.BK+C5/8</text></g>
<rect class="k" style="stroke-width:1.5" x="1321" y="195" width="21" height="12"/><rect class="f" x="1321" y="188" width="16" height="7"/><text class="w" x="1322" y="193">K617</text><text x="1328" y="203">1 &gt;</text>
<path d="M1253 201V194H1315L1321 200"/>
<text x="1259" y="193">BM5.WH+GR01-24</text><text x="1259" y="199">BM5.BK+X18-2</text>
<text x="1299" y="292">Spare</text><path class="dk" d="M1317 292H1367"/>
<path class="k" d="M1247 364H1282"/><rect class="f" x="1282" y="358" width="63" height="13"/><text class="w" x="1285" y="363" style="font-size:5.4px">BAR.RD 1/5/L0-B1</text><text class="w" x="1285" y="369" style="font-size:5.4px">BAR.RD 1/5/L0-B2</text><path class="dk" d="M1345 364H1387"/>
<text transform="translate(1397,402) rotate(-90)" style="font-size:5.6px">See sheet 3 (B1)</text>
<!-- sensor block -->
<path class="k" style="stroke-width:1.5" d="M1330 397H1367V498H1330V397"/><rect class="f" x="1330" y="391" width="8" height="6"/><text class="w" x="1331" y="396">P1</text>
<path d="M1332 413H1361V430H1345M1332 430H1345L1350 420L1355 425L1345 435M1347 410L1350 402M1345 440L1340 445"/>
<path class="k" d="M1332 446H1361V492H1332M1247 446H1323L1330 454"/>
<path d="M1258 452H1330M1258 452V492H1330M1258 458H1330M1258 464H1330"/><path shape-rendering="auto" d="M1345 455L1358 465L1345 476ZM1351 452V480L1342 490"/>
<path class="k" shape-rendering="auto" d="M1345 455L1350 470"/>
<text x="1267" y="444">BM.VE+C30U-3</text><text x="1267" y="450">BM.BK+C91E-1</text><text x="1267" y="458">1.BK+C51A-1</text><text x="1267" y="464">1.BK+F5A-7</text><text x="1267" y="490">GND.GND-1.6+F5/9-1</text>
<text x="1332" y="410">K1</text><text x="1332" y="431">K2</text><text x="1332" y="445">N-1</text><text x="1332" y="456">1-5</text><text x="1332" y="463">1-1</text><text x="1332" y="470">1-1</text><text x="1332" y="491">N-1</text>
<!-- X50..X54 -->
<g id="cons">
<rect class="k" style="stroke-width:1.5" x="1331" y="521" width="21" height="65"/><rect class="f" x="1331" y="514" width="14" height="7"/><text class="w" x="1332" y="519">X50</text>
<rect class="k" style="stroke-width:1.5" x="1331" y="612" width="21" height="66"/><rect class="f" x="1331" y="606" width="14" height="6"/><text class="w" x="1332" y="611">X51</text>
<rect class="k" style="stroke-width:1.5" x="1331" y="699" width="21" height="27"/><rect class="f" x="1331" y="693" width="14" height="6"/><text class="w" x="1332" y="698">X52</text>
<rect class="k" style="stroke-width:1.5" x="1331" y="749" width="21" height="65"/><rect class="f" x="1331" y="743" width="14" height="6"/><text class="w" x="1332" y="748">X53</text>
<rect class="k" style="stroke-width:1.5" x="1331" y="841" width="21" height="26"/><text x="1331" y="839" style="font-size:5.6px">X7(U)</text>
</g>
<g><text x="1337" y="528">1</text><text x="1337" y="535">2</text><text x="1337" y="541">3</text><text x="1337" y="548">4</text><text x="1337" y="555">5</text><text x="1337" y="561">6</text><text x="1337" y="568">7</text><text x="1337" y="574">8</text><text x="1337" y="581">9</text>
<text x="1333" y="620">{ 1</text><text x="1333" y="626">{ 2</text><text x="1333" y="633">{ 3</text><text x="1333" y="639">{ 4</text><text x="1333" y="646">{ 5</text><text x="1333" y="652">{ 6</text><text x="1333" y="659">{ 7</text><text x="1333" y="665">{ 8</text><text x="1333" y="672">{ 9</text>
<text x="1333" y="709">{ 1</text><text x="1333" y="715">{ 2</text><text x="1333" y="722">{ 3</text>
<text x="1333" y="757">{ 1</text><text x="1333" y="763">{ 2</text><text x="1333" y="770">{ 3</text><text x="1333" y="776">{ 4</text><text x="1333" y="783">{ 5</text><text x="1333" y="790">{ 6</text><text x="1333" y="796">{ 7</text><text x="1333" y="803">{ 8</text><text x="1333" y="809">{ 9</text>
<text x="1333" y="850">{ 1</text><text x="1333" y="856">{ 2</text><text x="1333" y="863">{ 3</text></g>
<path class="k" d="M1247 521H1325L1331 527M1247 618H1331M1247 707H1331M1247 755H1331M1247 847H1331"/>
<path d="M1259 521V586H1325L1331 578M1259 527H1331M1259 534H1322L1331 541M1259 540H1322L1331 547M1259 546H1331M1259 559H1331M1259 566H1331M1259 573H1322L1331 566"/>
<path class="k" d="M1259 553H1331M1259 580H1331"/>
<path d="M1259 618V672M1259 625H1331M1259 631H1331M1259 638H1331M1259 645H1331M1259 651H1331M1259 658H1331M1259 664H1331"/><path class="k" d="M1259 671H1331M1259 631H1331"/>
<path d="M1259 707V719"/><path class="k" d="M1259 719H1331"/>
<path d="M1259 755V808M1259 761H1331M1259 768H1331M1259 775H1331M1259 782H1331M1259 800H1331"/><path class="k" d="M1259 808H1331"/>
<path d="M1259 847V859H1331M1259 853H1331"/><path class="k" d="M1259 859H1331"/>
<text x="1265" y="519">BM4.WH+C30U-4</text><text x="1265" y="526">31.BK+C51-1</text><text x="1265" y="532">31.BK+C51-2</text><text x="1265" y="539">31.BK+C51-3</text><text x="1265" y="545">1Y.0.YE+C51-3</text><text x="1265" y="552">1Y.0.GY+C51-3</text><text x="1265" y="559">1.BN+C91B-3</text><text x="1265" y="565">1.YE+C91A-1</text><text x="1265" y="572">1.BK+C91A-2</text><text x="1265" y="579">31.BK.YE+C51-3</text><text x="1265" y="585">31.BK+C51-1</text>
<text x="1268" y="617">BAS.YT-7BN-18</text><text x="1268" y="624">BAT.YE+C5-1</text><text x="1268" y="630">BAS.YE+C2-2</text><text x="1268" y="637">BAT.GY+C5-3</text><text x="1268" y="644">BAT.BN+C51/C5-1</text><text x="1268" y="650">BAT.BK+C51-2</text><text x="1268" y="657">BAT.BN+C51-3</text><text x="1268" y="663">BAT.BK+C51-4</text><text x="1268" y="669">BAT.BK+C51-5</text>
<text x="1259" y="705">BATS.GN+F1/C5-C</text><text x="1268" y="714">BATS.YE+C51-2</text><text x="1268" y="719">BATS.BN+C51-3</text>
<text x="1268" y="754">BM5.YE+C30U-1</text><text x="1268" y="760">BM5.GY+C30U-2</text><text x="1268" y="767">1Y.0.BK+C51-3</text><text x="1268" y="774">1Y.0.BK+C51-3</text><text x="1268" y="780">31.BK+C50-1</text><text x="1265" y="799">BM1R.YE+C5C1-4</text><text x="1268" y="806">1.BK+C51-2</text>
<text x="1265" y="846">BM4.WH+C5C1-4</text><text x="1265" y="852">1.BK+C5C1-1</text><text x="1268" y="859">1.BK+C51-1</text>
<text x="1354" y="545">See wiring diagram</text><text x="1372" y="551">Upde</text>
<text x="1354" y="637">See wiring diagram</text><text x="1372" y="643">Upde</text>
<text x="1354" y="774">See wiring diagram</text><text x="1372" y="780">Upde</text>
<text x="1354" y="853">See wiring diagram</text><text x="1372" y="859">Upde</text>

<!-- Bottom center connector K-b -->
<path d="M632 830H650M650 834V902H724"/>
<rect class="k" style="stroke-width:1" x="724" y="836" width="22" height="67"/><rect class="f" x="724" y="830" width="16" height="6"/><text class="w" x="725" y="835">D61B</text>
<g><text x="730" y="843">{ 1</text><text x="730" y="850">{ 2</text><text x="730" y="856">{ 3</text><text x="730" y="863">{ 4</text><text x="730" y="869">{ 5</text><text x="730" y="876">{ 6</text><text x="730" y="882">{ 7</text><text x="730" y="889">{ 8</text><text x="730" y="895">{ 9</text></g>
<path d="M650 834H716L724 841M650 840H716L724 848M650 847H724M650 853H724M650 860H724M650 866H724M650 873H724M650 879H724M650 886H724M650 895H716L724 888"/><path class="k" d="M650 902H724M650 847H724"/>
<path d="M746 841L752 835H820M746 841H820M746 847H820M746 854H820M746 860H820M746 867H820M746 873H820M746 880H820M820 835V893M746 893H780"/><path class="k" d="M746 854H820M746 889H1063"/><path class="d" d="M780 893H820M780 899H820"/><path d="M746 902H1004"/>
<g><text x="656" y="829">BP.WH+C61B-4</text><text x="656" y="835">BP.WH+C61B-8</text><text x="656" y="842">BP.WH+C61B-1</text><text x="656" y="848">BP.WH+C5/D-3</text><text x="656" y="855">BP.BK+C5/D-1</text><text x="656" y="861">BP.BK+C5/D-1</text><text x="656" y="868">BP.RD/WH+C51E-1B</text><text x="656" y="875">BP.RD/WH+C51E-1</text><text x="656" y="881">BP.BK+C51A-3</text><text x="660" y="889">1-1BN-1-3</text><text x="656" y="894">CAN-.GN+C51B-28</text><text x="656" y="901">CAN-.GN+C51B-11</text></g>
<g><text x="752" y="835">BP.WH-1+F1-8</text><text x="752" y="842">BP.WH-1+F1-8</text><text x="752" y="849">BP.BK+F1/3</text><text x="752" y="855">BP.YE-D1-1</text><text x="752" y="862">BP.YE-D1-2</text><text x="752" y="868">BP.RD/WH-D1F-1</text><text x="752" y="875">BP.BK-1.D5F-1</text><text x="752" y="881">BP.BK-1.D51F-2</text><text x="752" y="888">BP.BK-1.D51F-3</text><text x="752" y="895">BP.D5F</text><text x="752" y="901">BP.D5F</text></g>
<path class="k" shape-rendering="auto" d="M1017 865L1010 878H1024Z" style="stroke-width:1"/><text x="1015" y="877" style="font-size:7px">!</text>
<rect class="f" x="1004" y="886" width="26" height="7"/><text class="w" x="1006" y="891">T7.3.B3</text>
<rect class="f" x="1004" y="899" width="26" height="7"/><text class="w" x="1006" y="904">T7.3.B1</text>
<path class="d" d="M1030 902H1051V932"/><path class="dk" d="M994 932H1051"/><path class="d" d="M980 938H1022"/>
<rect class="k" style="stroke-width:1.5" x="924" y="920" width="24" height="28"/><rect class="f" x="924" y="915" width="13" height="5"/><text class="w" x="925" y="919">T77</text><path shape-rendering="auto" d="M925 921L947 945"/><text x="927" y="945">B</text><text x="942" y="932">1</text><text x="942" y="940">2</text>
<path d="M948 932H994M948 938H980"/>
<text x="956" y="930">B+CAN.L-3</text><text x="956" y="937">B+CAN.H-3</text>
<!-- top sources -->
<rect class="f" x="960" y="802" width="18" height="6"/><text class="w" x="961" y="807">K93A</text>
<path d="M977 805H1051V814M973 810V820"/><path d="M980 808H1051"/><path class="k" d="M975 815H1063V1029M1075 843V818"/>
<text x="984" y="800">30/T001.BK-1/E01-1</text><text x="984" y="807">30/T4.BK+C51-3</text><text x="984" y="813">30/T0.BK+C51-5</text>
<path class="k" d="M1063 843H1149M1075 818H1149M1063 886H1149M1063 924H1149M1063 1029H1149"/>
<path d="M1063 988H1149M1075 880H1149M1075 880V886M1075 924V951H1149M1075 988V993H1149M1075 1029V1035H1149"/>
<path class="k" d="M1075 993H1149"/>
<text x="1082" y="817">BP1.WH+1-C41A-4</text><text x="1082" y="842">BP.WH-1-C41A-1</text><text x="1082" y="877">BP.WH-1-C41A-4</text><text x="1082" y="884">BP.BK-1-C31A-1</text><text x="1082" y="923">BP2.WH+1-C41A-4</text><text x="1082" y="950">BP.WH-1-C41A-1</text><text x="1082" y="985">P5.RD/WH-1-C81A-6</text><text x="1082" y="992">1.BK+1-C81A-1</text><text x="1082" y="1027">AL.BK-1-C8A09-1</text><text x="1082" y="1034">PB2.BK+C81A-6</text>
<!-- sensors -->
<g id="tb">
<rect class="k" style="stroke-width:1.5" x="1149" y="804" width="24" height="46"/>
<path shape-rendering="auto" class="k" d="M1150 805L1172 836" style="stroke-width:1"/><path d="M1149 836H1173"/><text x="1161" y="845">P&gt;</text><text x="1166" y="812">P</text><path class="k" d="M1173 830H1181"/><path d="M1181 826V834"/>
</g>
<use href="#tb" y="109"/>
<text x="1149" y="803">B11</text><text x="1149" y="912">T15</text>
<rect class="k" style="stroke-width:1.5" x="1149" y="870" width="24" height="23"/><text x="1149" y="869">T14</text><text x="1159" y="878">P&gt;</text><path shape-rendering="auto" d="M1150 885H1160L1170 890"/>
<rect class="k" style="stroke-width:1.5" x="1149" y="977" width="24" height="23"/><text x="1149" y="975">T18</text><text x="1159" y="985">P&gt;</text><path shape-rendering="auto" d="M1150 992H1160L1170 997"/>
<rect class="k" style="stroke-width:1.5" x="1149" y="1020" width="24" height="23"/><text x="1149" y="1018">T19U</text><text x="1159" y="1028">P&gt;</text><path shape-rendering="auto" d="M1150 1035H1160L1170 1040"/>
<!-- X13 R1 -->
<rect class="k" style="stroke-width:1.5" x="948" y="971" width="23" height="33"/><rect class="f" x="948" y="964" width="18" height="7"/><text class="w" x="949" y="969">X264</text>
<text x="958" y="980">1</text><text x="958" y="987">2</text><text x="952" y="993">{ 3</text><text x="952" y="999">{ 4</text>
<path d="M875 977V997M875 977H948M875 983H948M875 990H948"/><path class="k" d="M875 997H948M971 996H985V1003H1020"/>
<text x="881" y="975">BB.WH+C30/C0-1</text><text x="881" y="982">BB.WH+C31-3</text><text x="881" y="989">BB.BK+C31-3</text><text x="881" y="995">BK.BK+C5-3</text>
<path class="d" d="M995 967V1010"/><path d="M995 967H1020M995 1010H1020M1020 977V985"/><rect class="f" x="995" y="962" width="10" height="5"/><text class="w" x="996" y="966">R1</text>
<path d="M971 977H995M971 985H995M1003 985H1015M1010 972V997M1005 978H1015"/><path class="k" d="M995 997H1020"/>
</svg>
</body></html>
